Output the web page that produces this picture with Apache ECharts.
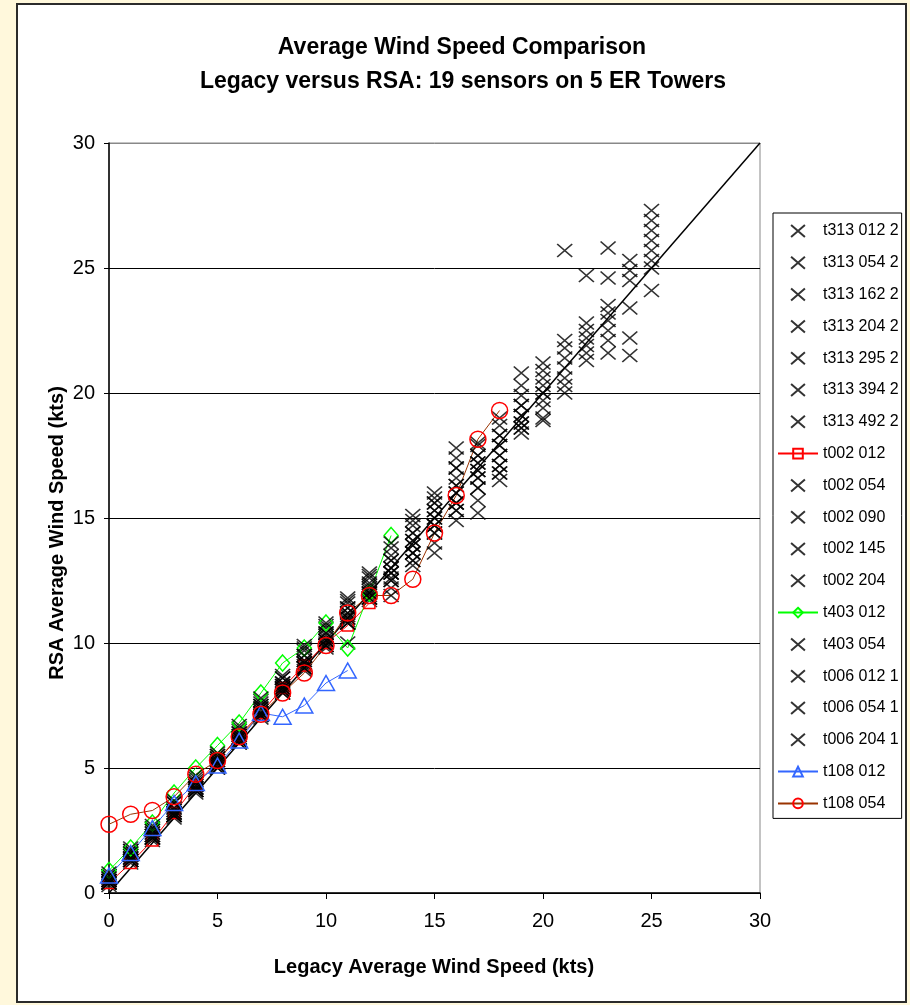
<!DOCTYPE html>
<html><head><meta charset="utf-8">
<script src="https://cdn.jsdelivr.net/npm/echarts@6/dist/echarts.min.js"></script>
<style>
html,body{margin:0;padding:0;background:#FFF8DC;width:910px;height:1005px;overflow:hidden;}
#panel{position:absolute;left:16px;top:3px;width:887px;height:996px;background:#fff;border:2px solid #2b2b2b;}
#chart{position:absolute;left:0;top:0;width:910px;height:1005px;}
</style></head><body>
<div id="panel"></div><div id="chart"></div>
<script>
// Legacy wind speed (x, kts): index of each array below
const legacyKts = [0,1,2,3,4,5,6,7,8,9,10,11,12,13,14,15,16,17,18,19,20,21,22,23,24,25];
const xTicks = [0,5,10,15,20,25,30];
const yTicks = [0,5,10,15,20,25,30];

// RSA average wind speed (kts) per sensor, indexed by legacy speed
const t313_012_2 = [0.3,1.2,2.1,3.0,4.0,5.0,6.0,7.0,8.0,8.9,9.8,10.0,11.7,11.9,13.1,13.6,14.9,15.2];
const t313_054_2 = [0.4,1.3,2.2,3.1,4.1,5.1,6.1,7.1,8.1,9.0,9.9,10.8,11.8,12.2,13.3,14.0,15.3,15.7,16.5,18.4,18.9];
const t313_162_2 = [0.4,1.3,2.2,3.1,4.1,5.1,6.1,7.2,8.1,9.1,10.0,10.9,11.9,12.5,13.6,14.4,15.6,16.2,16.8,18.6,19.0,20.0,21.3,21.6,null,24.1];
const t313_204_2 = [0.5,1.4,2.3,3.2,4.2,5.2,6.2,7.2,8.2,9.2,10.1,11.0,12.0,12.8,13.9,14.7,16.0,16.6,17.1,18.8,19.4,20.3,21.6,22.1,21.5,25.0];
const t313_295_2 = [0.5,1.5,2.4,3.3,4.3,5.3,6.3,7.4,8.3,9.3,10.3,11.2,12.2,13.0,14.1,15.0,16.3,16.9,17.5,19.1,19.7,20.6,21.9,22.5,22.2,25.3];
const t313_394_2 = [0.6,1.6,2.5,3.4,4.4,5.4,6.4,7.5,8.4,9.5,10.4,11.4,12.4,13.3,14.4,15.3,16.6,17.2,17.9,19.5,20.0,21.0,22.2,22.9,23.4,25.7];
const t313_492_2 = [0.7,1.7,2.6,3.6,4.5,5.5,6.5,7.6,8.6,9.7,10.6,11.6,12.6,13.5,14.7,15.6,17.0,17.5,18.3,19.9,20.3,21.4,22.5,23.2,24.5,26.1];
const t002_012   = [0.4,1.2,2.1,3.2,4.3,5.3,6.3,7.2,8.2,9.1,10.0,10.7,11.6];
const t002_054   = [0.4,1.3,2.2,3.1,4.1,5.1,6.1,7.1,8.1,9.0,9.9,10.8,11.8,12.6,13.6,14.7,15.6,16.6,17.1,18.6];
const t002_090   = [0.5,1.4,2.3,3.2,4.2,5.2,6.2,7.3,8.2,9.2,10.1,11.0,12.0,12.8,13.9,15.0,16.0,16.9,17.5,18.8,20.6,21.8];
const t002_145   = [0.5,1.5,2.4,3.3,4.3,5.3,6.3,7.4,8.3,9.3,10.2,11.2,12.1,13.0,14.1,15.3,16.3,17.2,17.9,19.1,20.9,22.1,22.8,23.5,24.9,26.5];
const t002_204   = [0.7,1.7,2.6,3.6,4.6,5.5,6.6,7.7,8.6,9.8,10.7,11.7,12.7,13.8,14.9,15.8,17.4,17.9,18.7,20.3,21.2,null,24.7,24.6,25.3,26.9];
const t403_012   = [0.9,1.8,2.8,4.0,5.0,5.9,6.8,8.0,9.2,9.8,10.8,9.8,12.0,14.3];
const t403_054   = [0.4,1.3,2.2,3.1,4.1,5.0,6.0,7.1,8.0,9.0,9.9,10.8,11.8,12.5,13.3,14.4,15.3,16.2,16.8];
const t006_012_1 = [0.5,1.4,2.3,3.2,4.2,5.2,6.2,7.2,8.2,9.2,10.1,11.1,12.0,12.8,13.6,14.7,15.6];
const t006_054_1 = [0.6,1.6,2.5,3.4,4.4,5.4,6.4,7.5,8.4,9.5,10.4,11.4,12.3,13.3,14.4,15.6,17.0,17.5,18.3,19.5];
const t006_204_1 = [0.8,1.8,2.7,3.7,4.7,5.6,6.7,7.8,8.7,9.9,10.8,11.8,12.8,14.0,15.1,16.0,17.8,18.0,19.0,20.8,20.0,25.7,null,25.8,null,27.3];
const t108_012   = [0.7,1.6,2.6,3.6,4.4,5.1,6.1,7.2,7.05,7.5,8.4,8.9];
const t108_054   = [2.75,3.15,3.3,3.85,4.75,5.3,6.25,7.15,8.0,8.8,9.9,11.2,11.9,11.9,12.55,14.4,15.9,18.15,19.3];
const oneToOne   = [0,30];

const seriesList = [
  ['t313 012 2', t313_012_2, 'x'],
  ['t313 054 2', t313_054_2, 'x'],
  ['t313 162 2', t313_162_2, 'x'],
  ['t313 204 2', t313_204_2, 'x'],
  ['t313 295 2', t313_295_2, 'x'],
  ['t313 394 2', t313_394_2, 'x'],
  ['t313 492 2', t313_492_2, 'x'],
  ['t002 012',   t002_012,   'rect'],
  ['t002 054',   t002_054,   'x'],
  ['t002 090',   t002_090,   'x'],
  ['t002 145',   t002_145,   'x'],
  ['t002 204',   t002_204,   'x'],
  ['t403 012',   t403_012,   'diamond'],
  ['t403 054',   t403_054,   'x'],
  ['t006 012 1', t006_012_1, 'x'],
  ['t006 054 1', t006_054_1, 'x'],
  ['t006 204 1', t006_204_1, 'x'],
  ['t108 012',   t108_012,   'triangle'],
  ['t108 054',   t108_054,   'circle']
];

const FONT = "'Liberation Sans', Arial, sans-serif";
const X_PATH = 'path://M0,0L15,13M15,0L0,13';
const lineStyles = {
  rect:     {line:'#FF0000', mark:'#FF0000', size:[11,11]},
  diamond:  {line:'#00FF00', mark:'#00FF00', size:[14,16]},
  triangle: {line:'#3366FF', mark:'#3366FF', size:[17,15]},
  circle:   {line:'#993300', mark:'#FF0000', size:[16,16]}
};

function toPairs(arr){
  const out = [];
  arr.forEach((v,i)=>{ if(v!==null && v!==undefined) out.push([legacyKts[i], v]); });
  return out;
}

const series = [{
  type:'line', name:'1:1', data: oneToOne.map(v=>[v,v]), symbol:'none', silent:true,
  lineStyle:{color:'#000', width:1.5}, z:1, legendHoverLink:false
}];
seriesList.forEach(([name, arr, kind])=>{
  if(kind==='x'){
    series.push({
      type:'scatter', name, data: toPairs(arr), symbol: X_PATH, symbolSize:[15,13],
      itemStyle:{color:'transparent', borderColor:'#000', borderWidth:1.6}, z:3
    });
  } else {
    const s = lineStyles[kind];
    series.push({
      type:'line', name, data: toPairs(arr), symbol: kind, symbolSize: s.size, showSymbol:true,
      lineStyle:{color:s.line, width:1},
      itemStyle:{color:'transparent', borderColor:s.mark, borderWidth:1.5}, z:3
    });
  }
});

const chart = echarts.init(document.getElementById('chart'), null, {renderer:'canvas'});
chart.setOption({
  animation:false,
  grid:{left:109, top:143, width:651, height:750, show:true, borderColor:'#888', borderWidth:1, backgroundColor:'transparent'},
  xAxis:{
    type:'value', min:xTicks[0], max:xTicks[xTicks.length-1], interval:5,
    axisLine:{show:true, onZero:false, lineStyle:{color:'#000', width:1.5}},
    axisTick:{show:true, length:6, lineStyle:{color:'#000'}},
    axisLabel:{fontSize:20, color:'#000', fontFamily:FONT, margin:18},
    splitLine:{show:false}
  },
  yAxis:{
    type:'value', min:yTicks[0], max:yTicks[yTicks.length-1], interval:5,
    axisLine:{show:true, onZero:false, lineStyle:{color:'#000', width:1.5}},
    axisTick:{show:true, length:5, lineStyle:{color:'#000'}},
    axisLabel:{fontSize:20, color:'#000', fontFamily:FONT, margin:14},
    splitLine:{show:true, lineStyle:{color:['#000','#000','#000','#000','#000','#000','#888'], width:1}}
  },
  legend:{
    orient:'vertical', left:773, top:213,
    padding:[10,3,7,4], itemWidth:40, itemHeight:12, itemGap:15.8,
    borderColor:'#000', borderWidth:1, backgroundColor:'#fff',
    textStyle:{fontSize:16, color:'#000', fontFamily:FONT},
    data: seriesList.map(s=>s[0]),
    selectedMode:false
  },
  graphic:[
    {type:'text', x:462, y:48, style:{text:'Average Wind Speed Comparison', fill:'#000', font:"bold 23px "+FONT, textAlign:'center', textVerticalAlign:'middle'}},
    {type:'text', x:463, y:82, style:{text:'Legacy versus RSA: 19 sensors on 5 ER Towers', fill:'#000', font:"bold 23px "+FONT, textAlign:'center', textVerticalAlign:'middle'}},
    {type:'text', x:434, y:967, style:{text:'Legacy Average Wind Speed (kts)', fill:'#000', font:"bold 20px "+FONT, textAlign:'center', textVerticalAlign:'middle'}},
    {type:'text', x:57, y:533, rotation:Math.PI/2, style:{text:'RSA Average Wind Speed (kts)', fill:'#000', font:"bold 20px "+FONT, textAlign:'center', textVerticalAlign:'middle'}}
  ],
  series
});
</script>
</body></html>
